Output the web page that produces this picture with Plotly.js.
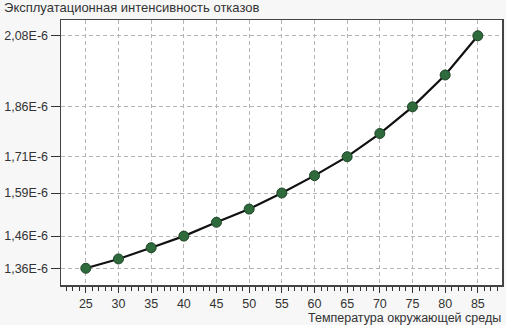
<!DOCTYPE html>
<html><head><meta charset="utf-8">
<script src="https://cdn.plot.ly/plotly-3.0.1.min.js"></script>
<style>html,body{margin:0;padding:0;background:#f7f7f7}#c{width:506px;height:325px}</style>
</head><body><div id="c"></div>
<script>
const temperature = [25, 30, 35, 40, 45, 50, 55, 60, 65, 70, 75, 80, 85];
const failureRate = [1.36e-6, 1.389e-6, 1.424e-6, 1.46e-6, 1.503e-6, 1.544e-6, 1.594e-6, 1.648e-6, 1.707e-6, 1.779e-6, 1.862e-6, 1.961e-6, 2.083e-6];
const yTickVals = [1.36e-6, 1.46e-6, 1.594e-6, 1.707e-6, 1.862e-6, 2.083e-6];
const yTickText = ['1,36E-6', '1,46E-6', '1,59E-6', '1,71E-6', '1,86E-6', '2,08E-6'];
const xTickVals = [25, 30, 35, 40, 45, 50, 55, 60, 65, 70, 75, 80, 85];
const titleText = 'Эксплуатационная интенсивность отказов';
const xTitleText = 'Температура окружающей среды';

const trace = {
  x: temperature, y: failureRate, type: 'scatter', mode: 'lines+markers',
  line: {color: '#111111', width: 2.2},
  marker: {color: '#2f6a3c', size: 10, line: {color: '#1d4426', width: 1}},
  cliponaxis: false, hoverinfo: 'none'
};
const font = {family: 'Liberation Sans, Arial, sans-serif', size: 12.5, color: '#333333'};
const layout = {
  width: 506, height: 325,
  paper_bgcolor: '#f7f7f7', plot_bgcolor: '#ffffff',
  margin: {l: 61, r: 4, t: 20, b: 40},
  font: font, showlegend: false,
  title: {text: titleText, x: 0.008, xanchor: 'left', xref: 'container', y: 0.99, yanchor: 'top', yref: 'container', font: {family: font.family, size: 13, color: '#333333'}},
  xaxis: {
    range: [21.2, 88.7], tickmode: 'array', tickvals: xTickVals,
    ticks: 'outside', ticklen: 6, tickwidth: 1, tickcolor: '#333333',
    minor: {dtick: 1, tick0: 25, ticks: 'outside', ticklen: 4, tickwidth: 1, tickcolor: '#333333', showgrid: false},
    showgrid: true, gridcolor: '#b5b5b5', griddash: '4px,3px', gridwidth: 1,
    showline: true, linecolor: '#444444', linewidth: 1.5, mirror: true,
    zeroline: false, tickfont: font
  },
  yaxis: {
    range: [1.308e-6, 2.132e-6], tickmode: 'array', tickvals: yTickVals, ticktext: yTickText,
    ticks: 'outside', ticklen: 9, tickwidth: 1, tickcolor: '#333333',
    showgrid: true, gridcolor: '#b5b5b5', griddash: '4px,3px', gridwidth: 1,
    showline: true, linecolor: '#444444', linewidth: 1.5, mirror: true,
    zeroline: false, tickfont: font
  },
  annotations: [{
    text: xTitleText, xref: 'paper', yref: 'paper', x: 1, y: -0.123,
    xanchor: 'right', yanchor: 'middle', showarrow: false, borderpad: 0,
    font: {family: font.family, size: 12.5, color: '#333333'}
  }]
};
Plotly.newPlot('c', [trace], layout, {staticPlot: true});
</script></body></html>
